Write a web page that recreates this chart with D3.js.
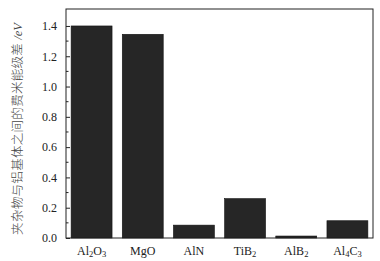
<!DOCTYPE html>
<html>
<head>
<meta charset="utf-8">
<script src="https://cdn.jsdelivr.net/npm/d3@7"></script>
<style>
body { margin: 0; background: #fff; }
text { font-family: "Liberation Serif", "Times New Roman", serif; }
</style>
</head>
<body>
<div id="chart"></div>
<script>
var width = 380;
var height = 261;

// data
var phases = ["Al2O3", "MgO", "AlN", "TiB2", "AlB2", "Al4C3"];
var phaseLabels = [["Al", "2", "O", "3"], ["MgO"], ["AlN"], ["TiB", "2"], ["AlB", "2"], ["Al", "4", "C", "3"]];
var energyGap = [1.40, 1.345, 0.085, 0.26, 0.013, 0.114];
var yTicks = [0, 0.2, 0.4, 0.6, 0.8, 1.0, 1.2, 1.4];

var plotL = 66, plotR = 373, plotT = 9, plotB = 238;

var svg = d3.select("#chart").append("svg")
    .attr("width", width)
    .attr("height", height);

var xScale = d3.scaleBand().domain(phases).range([plotL, plotR])
    .paddingInner(0.2).paddingOuter(0.1);
var yScale = d3.scaleLinear().domain([0, 1.512]).range([plotB, plotT]);

// bars
svg.selectAll("rect.bar")
    .data(energyGap)
    .enter()
    .append("rect")
    .attr("class", "bar")
    .attr("x", function(d, i) { return xScale(phases[i]); })
    .attr("y", function(d) { return yScale(d); })
    .attr("width", xScale.bandwidth())
    .attr("height", function(d) { return plotB - yScale(d); })
    .attr("fill", "#262626")
    .attr("stroke", "#111")
    .attr("stroke-width", 0.6);

// frame
svg.append("rect")
    .attr("x", plotL).attr("y", plotT)
    .attr("width", plotR - plotL).attr("height", plotB - plotT)
    .attr("fill", "none")
    .attr("stroke", "#222")
    .attr("stroke-width", 1);

// y axis, ticks pointing inward
var yAxis = d3.axisLeft(yScale)
    .tickValues(yTicks)
    .tickSize(-4)
    .tickPadding(9)
    .tickFormat(d3.format(".1f"));
var gy = svg.append("g")
    .attr("transform", "translate(" + plotL + ",0)")
    .call(yAxis);
gy.select(".domain").remove();
gy.selectAll("text").attr("font-size", 12).attr("fill", "#222")
    .style("font-family", "'Liberation Serif', serif");
gy.selectAll("line").attr("stroke", "#222");

// minor ticks
var minor = d3.range(0.1, 1.5, 0.2);
svg.selectAll("line.minor")
    .data(minor)
    .enter()
    .append("line")
    .attr("x1", plotL).attr("x2", plotL + 2.5)
    .attr("y1", function(d) { return yScale(d); })
    .attr("y2", function(d) { return yScale(d); })
    .attr("stroke", "#222");

// x labels with subscripts
var xl = svg.selectAll("text.xlab")
    .data(phaseLabels)
    .enter()
    .append("text")
    .attr("class", "xlab")
    .attr("x", function(d, i) { return xScale(phases[i]) + xScale.bandwidth() / 2; })
    .attr("y", 255)
    .attr("text-anchor", "middle")
    .attr("font-size", 12)
    .attr("fill", "#222");
xl.each(function(parts) {
    var t = d3.select(this);
    parts.forEach(function(p, j) {
        var sub = j % 2 === 1;
        t.append("tspan")
            .attr("font-size", sub ? 8.5 : 12)
            .attr("dy", sub ? 2 : (j > 0 ? -2 : 0))
            .text(p);
    });
});

// y axis title
var yt = svg.append("text")
    .attr("transform", "translate(22,129) rotate(-90)")
    .attr("text-anchor", "middle")
    .attr("font-size", 12.5)
    .attr("fill", "#444");
yt.append("tspan")
    .style("font-family", "'Noto Sans CJK SC', serif")
    .style("font-weight", 300)
    .attr("letter-spacing", 0.3)
    .text("夹杂物与铝基体之间的费米能级差 ");
yt.append("tspan")
    .style("font-style", "italic")
    .text("/eV");
</script>
</body>
</html>
